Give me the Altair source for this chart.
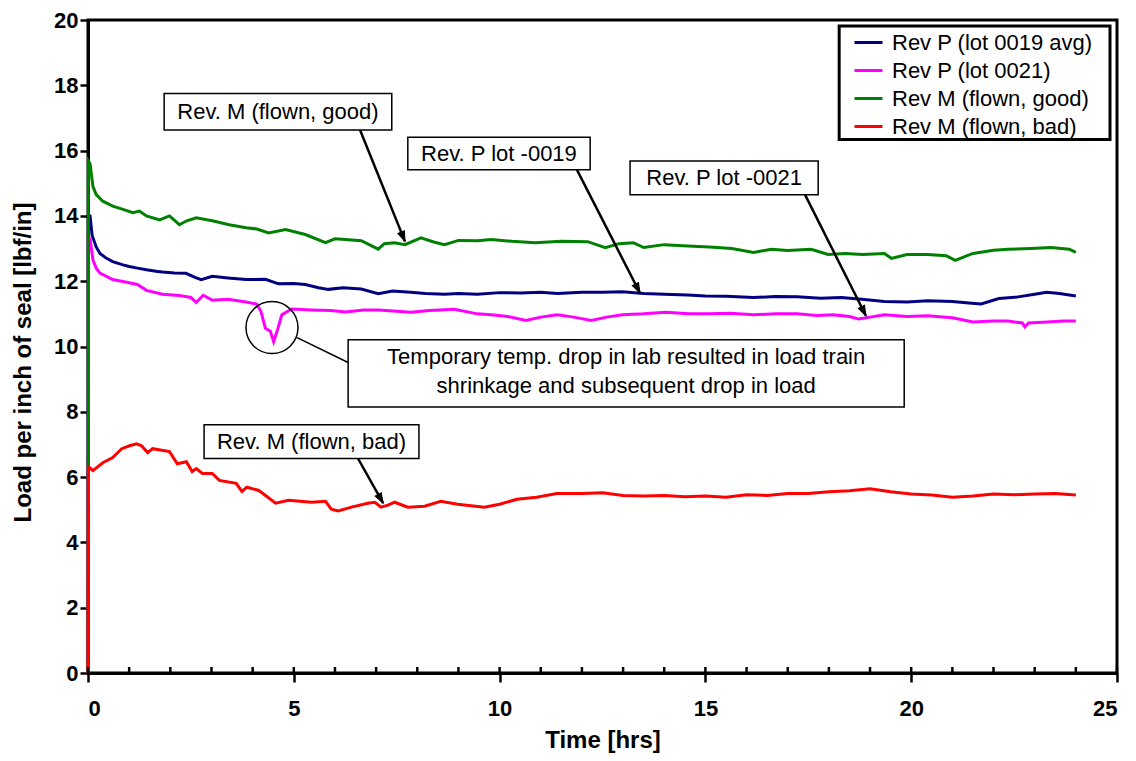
import math
import altair as alt
import pandas as pd

# ---------------- data ----------------
series_names = ["Rev P (lot 0019 avg)", "Rev P (lot 0021)", "Rev M (flown, good)", "Rev M (flown, bad)"]
series_colors = ["#000080", "#FF00FF", "#008000", "#FF0000"]

blue_t = [0, 0.01, 0.05, 0.1, 0.2, 0.29, 0.45, 0.6, 0.85, 1.0, 1.2, 1.42, 1.69, 1.81, 2.1, 2.38, 2.6, 2.75,
          3.02, 3.4, 3.84, 4.31, 4.63, 5.0, 5.28, 5.6, 5.84, 6.2, 6.64, 7.05, 7.4, 7.84, 8.2, 8.66, 9.0, 9.46,
          10.0, 10.5, 11.0, 11.4, 12.0, 12.5, 12.98, 13.5, 14.0, 14.57, 15.0, 15.5, 16.17, 16.7, 17.23, 17.8,
          18.3, 18.8, 19.35, 19.9, 20.4, 21.0, 21.4, 21.7, 22.13, 22.6, 23.0, 23.29, 23.6, 24.0]
blue_v = [0, 14.0, 14.0, 13.4, 13.05, 12.85, 12.7, 12.6, 12.5, 12.45, 12.4, 12.35, 12.3, 12.28, 12.25, 12.24,
          12.12, 12.05, 12.15, 12.1, 12.05, 12.06, 11.92, 11.93, 11.9, 11.8, 11.75, 11.8, 11.76, 11.62, 11.7,
          11.66, 11.62, 11.6, 11.62, 11.6, 11.65, 11.64, 11.66, 11.62, 11.66, 11.66, 11.68, 11.62, 11.6, 11.58,
          11.55, 11.54, 11.5, 11.53, 11.52, 11.48, 11.5, 11.45, 11.38, 11.36, 11.4, 11.38, 11.33, 11.3, 11.47,
          11.52, 11.6, 11.66, 11.62, 11.55]

mag_t = [0, 0.01, 0.05, 0.12, 0.2, 0.29, 0.6, 1.0, 1.2, 1.42, 1.81, 2.22, 2.5, 2.63, 2.8, 3.02, 3.4, 3.84,
         4.1, 4.2, 4.31, 4.43, 4.51, 4.59, 4.71, 4.95, 5.43, 5.9, 6.25, 6.7, 7.05, 7.5, 7.84, 8.3, 8.9, 9.46,
         9.8, 10.2, 10.64, 11.0, 11.4, 11.8, 12.23, 12.6, 12.98, 13.5, 14.04, 14.6, 15.1, 15.6, 16.17, 16.7,
         17.23, 17.7, 18.1, 18.5, 18.73, 19.0, 19.35, 19.9, 20.4, 21.0, 21.5, 22.0, 22.35, 22.7, 22.76, 22.85,
         23.3, 23.7, 24.0]
mag_v = [0, 13.3, 13.3, 12.65, 12.4, 12.25, 12.05, 11.95, 11.9, 11.72, 11.6, 11.56, 11.5, 11.35, 11.57, 11.42,
         11.45, 11.36, 11.3, 11.08, 10.56, 10.47, 10.15, 10.45, 10.97, 11.15, 11.12, 11.1, 11.06, 11.12, 11.12,
         11.08, 11.05, 11.1, 11.14, 11.0, 10.97, 10.92, 10.8, 10.9, 10.97, 10.9, 10.8, 10.9, 10.97, 11.0, 11.05,
         11.0, 11.0, 11.02, 10.97, 11.0, 11.0, 10.95, 10.97, 10.92, 10.84, 10.9, 10.97, 10.92, 10.94, 10.88,
         10.75, 10.78, 10.78, 10.72, 10.6, 10.72, 10.75, 10.78, 10.78]

green_t = [0, 0.01, 0.05, 0.12, 0.2, 0.36, 0.6, 0.85, 1.09, 1.25, 1.42, 1.74, 1.98, 2.22, 2.4, 2.63, 3.02,
           3.43, 3.84, 4.1, 4.39, 4.8, 5.28, 5.77, 6.0, 6.25, 6.64, 7.05, 7.2, 7.45, 7.7, 8.09, 8.4, 8.66, 9.0,
           9.46, 9.8, 10.3, 10.86, 11.5, 12.14, 12.57, 12.9, 13.25, 13.5, 14.0, 14.57, 15.1, 15.64, 16.17, 16.6,
           17.0, 17.57, 17.98, 18.4, 18.82, 19.35, 19.52, 19.9, 20.4, 20.85, 21.07, 21.5, 22.0, 22.35, 22.9,
           23.4, 23.84, 24.0]
green_v = [0, 15.68, 15.6, 14.9, 14.65, 14.45, 14.3, 14.2, 14.1, 14.15, 14.0, 13.88, 14.0, 13.73, 13.85, 13.94,
           13.85, 13.73, 13.64, 13.6, 13.48, 13.58, 13.43, 13.18, 13.3, 13.28, 13.24, 12.98, 13.15, 13.18, 13.12,
           13.33, 13.2, 13.12, 13.25, 13.24, 13.28, 13.22, 13.18, 13.22, 13.21, 13.03, 13.15, 13.18, 13.03, 13.12,
           13.08, 13.05, 13.0, 12.88, 12.98, 12.94, 12.98, 12.82, 12.85, 12.82, 12.85, 12.7, 12.82, 12.82, 12.78,
           12.64, 12.85, 12.95, 12.98, 13.0, 13.03, 12.98, 12.88]

red_t = [0, 0.01, 0.03, 0.12, 0.36, 0.6, 0.82, 1.01, 1.18, 1.3, 1.45, 1.57, 1.98, 2.17, 2.39, 2.53, 2.63, 2.78,
         3.02, 3.19, 3.6, 3.74, 3.86, 4.15, 4.56, 4.87, 5.43, 5.77, 5.91, 6.08, 6.4, 6.8, 6.97, 7.12, 7.29, 7.45,
         7.77, 8.18, 8.57, 8.98, 9.63, 10.0, 10.42, 10.9, 11.39, 12.0, 12.5, 13.0, 13.5, 14.0, 14.5, 15.0, 15.5,
         16.0, 16.5, 17.0, 17.5, 18.0, 18.5, 19.0, 19.5, 20.0, 20.5, 21.0, 21.5, 22.0, 22.5, 23.0, 23.5, 24.0]
red_v = [0, 6.3, 6.3, 6.2, 6.44, 6.6, 6.87, 6.96, 7.02, 6.96, 6.75, 6.87, 6.78, 6.41, 6.47, 6.17, 6.26, 6.11,
         6.11, 5.9, 5.81, 5.56, 5.69, 5.59, 5.2, 5.29, 5.23, 5.26, 5.02, 4.96, 5.08, 5.2, 5.23, 5.08, 5.14, 5.23,
         5.08, 5.11, 5.26, 5.17, 5.08, 5.17, 5.32, 5.38, 5.5, 5.5, 5.52, 5.44, 5.42, 5.44, 5.4, 5.42, 5.38, 5.46,
         5.44, 5.5, 5.5, 5.55, 5.58, 5.64, 5.55, 5.48, 5.45, 5.38, 5.42, 5.48, 5.46, 5.48, 5.5, 5.45]

x_tick_values = [0, 5, 10, 15, 20, 25]
y_tick_values = [0, 2, 4, 6, 8, 10, 12, 14, 16, 18, 20]
minor_hours = list(range(0, 26))

# annotation boxes (data coordinates)
box_labels = ["Rev. M (flown, good)", "Rev. P lot -0019", "Rev. P lot -0021", "Rev. M (flown, bad)"]
box_t0 = [1.85, 7.77, 13.17, 2.82]
box_t1 = [7.38, 12.2, 17.74, 8.04]
box_v0 = [16.63, 15.41, 14.65, 6.57]
box_v1 = [17.75, 16.41, 15.68, 7.6]

arrow_t0 = [6.61, 11.88, 17.42, 6.56]
arrow_v0 = [16.63, 15.41, 14.65, 6.57]
arrow_t1 = [7.70, 13.41, 18.9, 7.17]
arrow_v1 = [13.22, 11.64, 10.94, 5.2]

note_lines = ["Temporary temp. drop in lab resulted in load train", "shrinkage and subsequent drop in load"]
note_line_v = [9.67, 8.78]
note_box = {"t0": 6.32, "t1": 19.83, "v0": 8.15, "v1": 10.21}
circle_center = {"t": 4.47, "v": 10.58}
leader = {"t0": 5.08, "v0": 10.27, "t1": 6.32, "v1": 9.51}

legend_frame = {"t0": 18.25, "t1": 24.83, "v0": 16.34, "v1": 19.82}

# ---------------- layout ----------------
W, H = 1029, 653
FONT = "Liberation Sans"

rows = []
for name, ts, vs in zip(series_names, [blue_t, mag_t, green_t, red_t], [blue_v, mag_v, green_v, red_v]):
    for i, (t, v) in enumerate(zip(ts, vs)):
        rows.append({"series": name, "t": t, "v": v, "ord": i})
df = pd.DataFrame(rows)

xs = alt.Scale(domain=[0, 25], nice=False, zero=False)
ys = alt.Scale(domain=[0, 20], nice=False, zero=False)

x_axis = alt.Axis(
    values=x_tick_values, title="Time [hrs]", format="d",
    labelFontSize=22, labelFontWeight="bold", labelFont=FONT, labelColor="black",
    tickSize=9, tickWidth=2.5, tickColor="black", labelPadding=16,
    domainWidth=3, domainColor="black", grid=False,
    titleFontSize=24, titleFontWeight="bold", titleFont=FONT, titleColor="black",
    titleBaseline="alphabetic", titleY=74)
y_axis = alt.Axis(
    values=y_tick_values, title="Load per inch of seal [lbf/in]", format="d",
    labelFontSize=22, labelFontWeight="bold", labelFont=FONT, labelColor="black",
    tickSize=8, tickWidth=2.5, tickColor="black", labelPadding=2,
    domainWidth=3, domainColor="black", grid=False,
    titleFontSize=24, titleFontWeight="bold", titleFont=FONT, titleColor="black",
    titleX=-53, titleY=342)


def X(field):
    return alt.X(field, scale=xs, axis=x_axis)


def Y(field):
    return alt.Y(field, scale=ys, axis=y_axis)


lines = alt.Chart(df).mark_line(strokeWidth=3).encode(
    x=X("t:Q"),
    y=Y("v:Q"),
    color=alt.Color("series:N", scale=alt.Scale(domain=series_names, range=series_colors),
                    legend=alt.Legend(orient="none", legendX=759, legendY=1, title=None,
                                      labelFontSize=22, labelFont=FONT, labelColor="black",
                                      labelLimit=400,
                                      symbolType="stroke", symbolSize=784, symbolStrokeWidth=3,
                                      labelOffset=8, rowPadding=1, padding=6)),
    order=alt.Order("ord:Q"),
)

minor = alt.Chart(pd.DataFrame({"h": minor_hours})).mark_rule(color="black", strokeWidth=2.5).encode(
    x=X("h:Q"),
    y=alt.value(H), y2=alt.value(H - 6),
)

frame = alt.Chart(pd.DataFrame([legend_frame])).mark_rect(fill="white", stroke="black", strokeWidth=3).encode(
    x=X("t0:Q"), x2="t1:Q", y=Y("v0:Q"), y2="v1:Q",
)

boxes_df = pd.DataFrame({"label": box_labels, "t0": box_t0, "t1": box_t1, "v0": box_v0, "v1": box_v1})
boxes_df["tm"] = (boxes_df["t0"] + boxes_df["t1"]) / 2
boxes_df["vm"] = (boxes_df["v0"] + boxes_df["v1"]) / 2
note_df = pd.DataFrame([note_box])

boxes = alt.Chart(boxes_df).mark_rect(fill="white", stroke="black", strokeWidth=1.5).encode(
    x=X("t0:Q"), x2="t1:Q", y=Y("v0:Q"), y2="v1:Q",
)
note_rect = alt.Chart(note_df).mark_rect(fill="white", stroke="black", strokeWidth=1.5).encode(
    x=X("t0:Q"), x2="t1:Q", y=Y("v0:Q"), y2="v1:Q",
)
box_text = alt.Chart(boxes_df).mark_text(font=FONT, fontSize=22, color="black", align="center",
                                         baseline="middle").encode(
    x=X("tm:Q"), y=Y("vm:Q"), text="label:N")

note_text_df = pd.DataFrame({"txt": note_lines, "v": note_line_v,
                             "t": [(note_box["t0"] + note_box["t1"]) / 2] * 2})
note_text = alt.Chart(note_text_df).mark_text(font=FONT, fontSize=22, color="black", align="center",
                                              baseline="middle").encode(
    x=X("t:Q"), y=Y("v:Q"), text="txt:N")

arrows_df = pd.DataFrame({"t0": arrow_t0, "v0": arrow_v0, "t1": arrow_t1, "v1": arrow_v1})
px_t, px_v = W / 25.0, H / 20.0
arrows_df["ang"] = [
    (math.degrees(math.atan2((b - a) * px_t, (d - c) * px_v)) + 360) % 360
    for a, b, c, d in zip(arrow_t0, arrow_t1, arrow_v0, arrow_v1)
]
arrows = alt.Chart(arrows_df).mark_rule(color="black", strokeWidth=2.5).encode(
    x=X("t0:Q"), x2="t1:Q", y=Y("v0:Q"), y2="v1:Q",
)
heads = alt.Chart(arrows_df).mark_point(shape="M0,0L-0.7,2L0.7,2Z", filled=True, fill="black",
                                        stroke="black", strokeWidth=1, size=100, opacity=1).encode(
    x=X("t1:Q"), y=Y("v1:Q"),
    angle=alt.Angle("ang:Q", scale=None),
)

leader_line = alt.Chart(pd.DataFrame([leader])).mark_rule(color="black", strokeWidth=1.5).encode(
    x=X("t0:Q"), x2="t1:Q", y=Y("v0:Q"), y2="v1:Q",
)
circle = alt.Chart(pd.DataFrame([circle_center])).mark_point(shape="circle", size=2704, filled=False,
                                                             stroke="black", strokeWidth=1.5, opacity=1).encode(
    x=X("t:Q"), y=Y("v:Q"))

chart = alt.layer(
    lines, minor, frame, boxes, note_rect, box_text, note_text, arrows, heads, leader_line, circle
).properties(
    width=W, height=H,
    autosize=alt.AutoSizeParams(type="none"),
    padding={"left": 80, "top": 12, "right": 11, "bottom": 80},
    background="white",
).configure(
    font=FONT
).configure_view(
    stroke="black", strokeWidth=3
)

chart.save("out.html", embed_options={"renderer": "svg", "actions": False})
